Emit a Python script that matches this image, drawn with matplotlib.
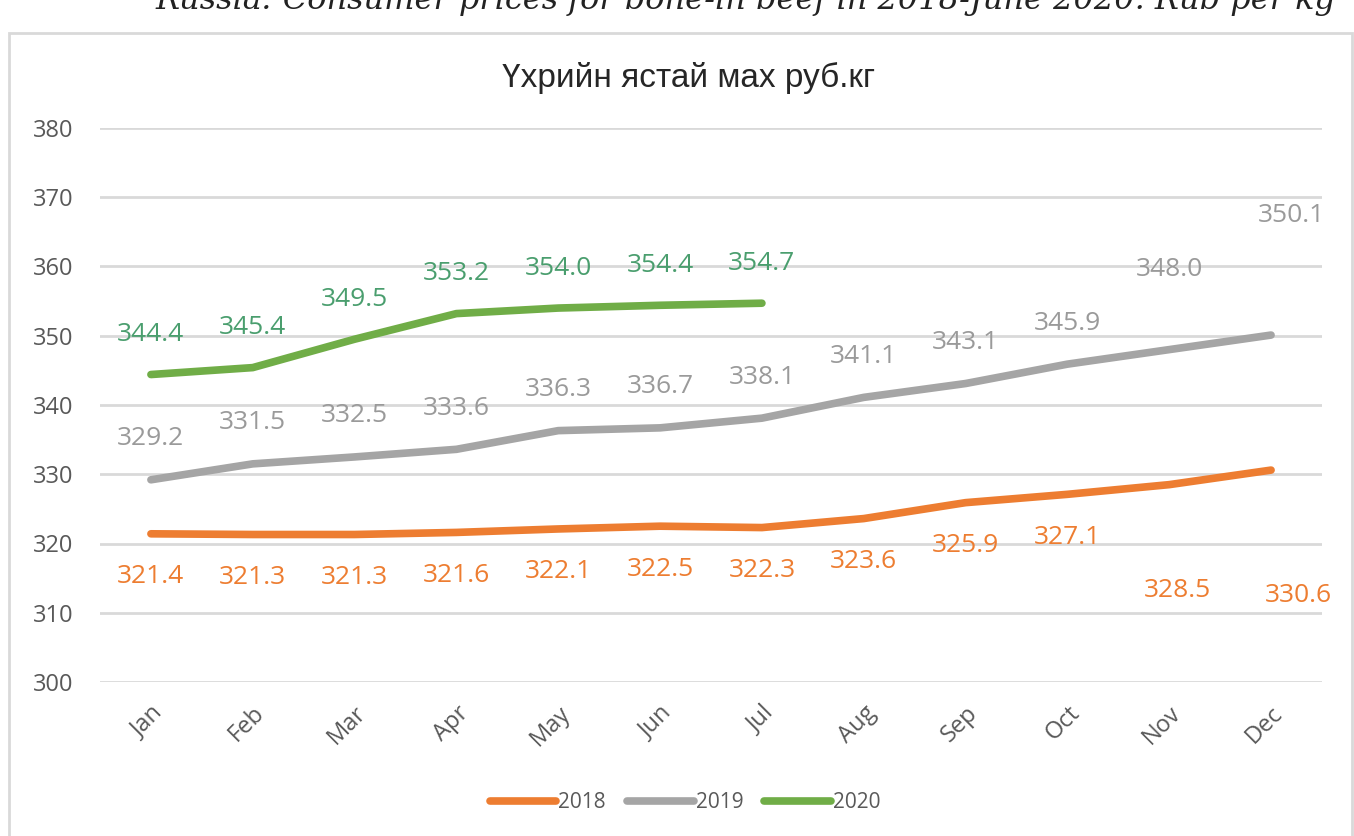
import matplotlib
matplotlib.use("Agg")
import matplotlib.pyplot as plt
from matplotlib.patches import Rectangle

months = ["Jan", "Feb", "Mar", "Apr", "May", "Jun", "Jul", "Aug", "Sep", "Oct", "Nov", "Dec"]
y2018 = [321.4, 321.3, 321.3, 321.6, 322.1, 322.5, 322.3, 323.6, 325.9, 327.1, 328.5, 330.6]
y2019 = [329.2, 331.5, 332.5, 333.6, 336.3, 336.7, 338.1, 341.1, 343.1, 345.9, 348.0, 350.1]
y2020 = [344.4, 345.4, 349.5, 353.2, 354.0, 354.4, 354.7]
yticks = [300, 310, 320, 330, 340, 350, 360, 370, 380]

plt.rcParams['font.family'] = ['Open Sans', 'DejaVu Sans']

W, H = 1354, 836
fig = plt.figure(figsize=(W/100, H/100), dpi=100)
ax = fig.add_axes([100/W, 1-682/H, 1222/W, 554/H])

# chart frame and the clipped caption above it
fig.patches.append(Rectangle((9/W, -0.1), 1343/W, 1-33/H+0.1, transform=fig.transFigure,
                             facecolor='none', edgecolor='#d9d9d9', linewidth=2))
fig.text(745/W, 1-1/H, "Russia: Consumer prices for bone-in beef in 2018-June 2020. Rub per kg",
         ha='center', va='center', fontsize=23, style='italic', family='DejaVu Serif', color='#222222')

# label offsets in pixels (dx, dy), dy positive = up; a few labels were moved by hand
default_dy = {"2018": -43, "2019": 41, "2020": 40}
moved = {("2018", 10): (8, -106), ("2018", 11): (27, -125),
         ("2019", 10): (0, 80), ("2019", 11): (20, 120)}

series = [
    ("2018", y2018, '#ED7D31', '#ED7D31'),
    ("2019", y2019, '#A5A5A5', '#9a9a9a'),
    ("2020", y2020, '#70AD47', '#4a9e6e'),
]
for name, vals, col, lcol in series:
    x = list(range(len(vals)))
    ax.plot(x, vals, color=col, linewidth=5.5, solid_capstyle='round', label=name)
    for xi, v in zip(x, vals):
        dx, dy = moved.get((name, xi), (0, default_dy[name]))
        ax.annotate("{:.1f}".format(v), (xi, v), xytext=(dx*0.72, dy*0.72), textcoords='offset points',
                    ha='center', va='center', fontsize=19, color=lcol)

ax.set_xlim(-0.5, 11.5)
ax.set_ylim(300, 380)
ax.set_yticks(yticks)
ax.set_xticks(range(12))
ax.set_xticklabels(months, rotation=45, ha='right', rotation_mode='anchor')
ax.tick_params(axis='both', length=0, labelsize=17, labelcolor='#595959')
ax.tick_params(axis='x', pad=14)
ax.tick_params(axis='y', pad=19)
ax.grid(axis='y', color='#d9d9d9', linewidth=2)
ax.set_axisbelow(True)
for s in ax.spines.values():
    s.set_visible(False)

fig.text(689/W, 1-78/H, "Үхрийн ястай мах руб.кг", ha='center', va='center',
         fontsize=24, color='#262626', family=['Liberation Sans', 'DejaVu Sans'])

ax.legend(loc='center', bbox_to_anchor=((685-100)/1222, -(803-682)/554), ncol=3, frameon=False,
          fontsize=15, labelcolor='#595959', handlelength=3.2, handletextpad=0.1, columnspacing=1.0)

fig.savefig("out.png", dpi=100)
